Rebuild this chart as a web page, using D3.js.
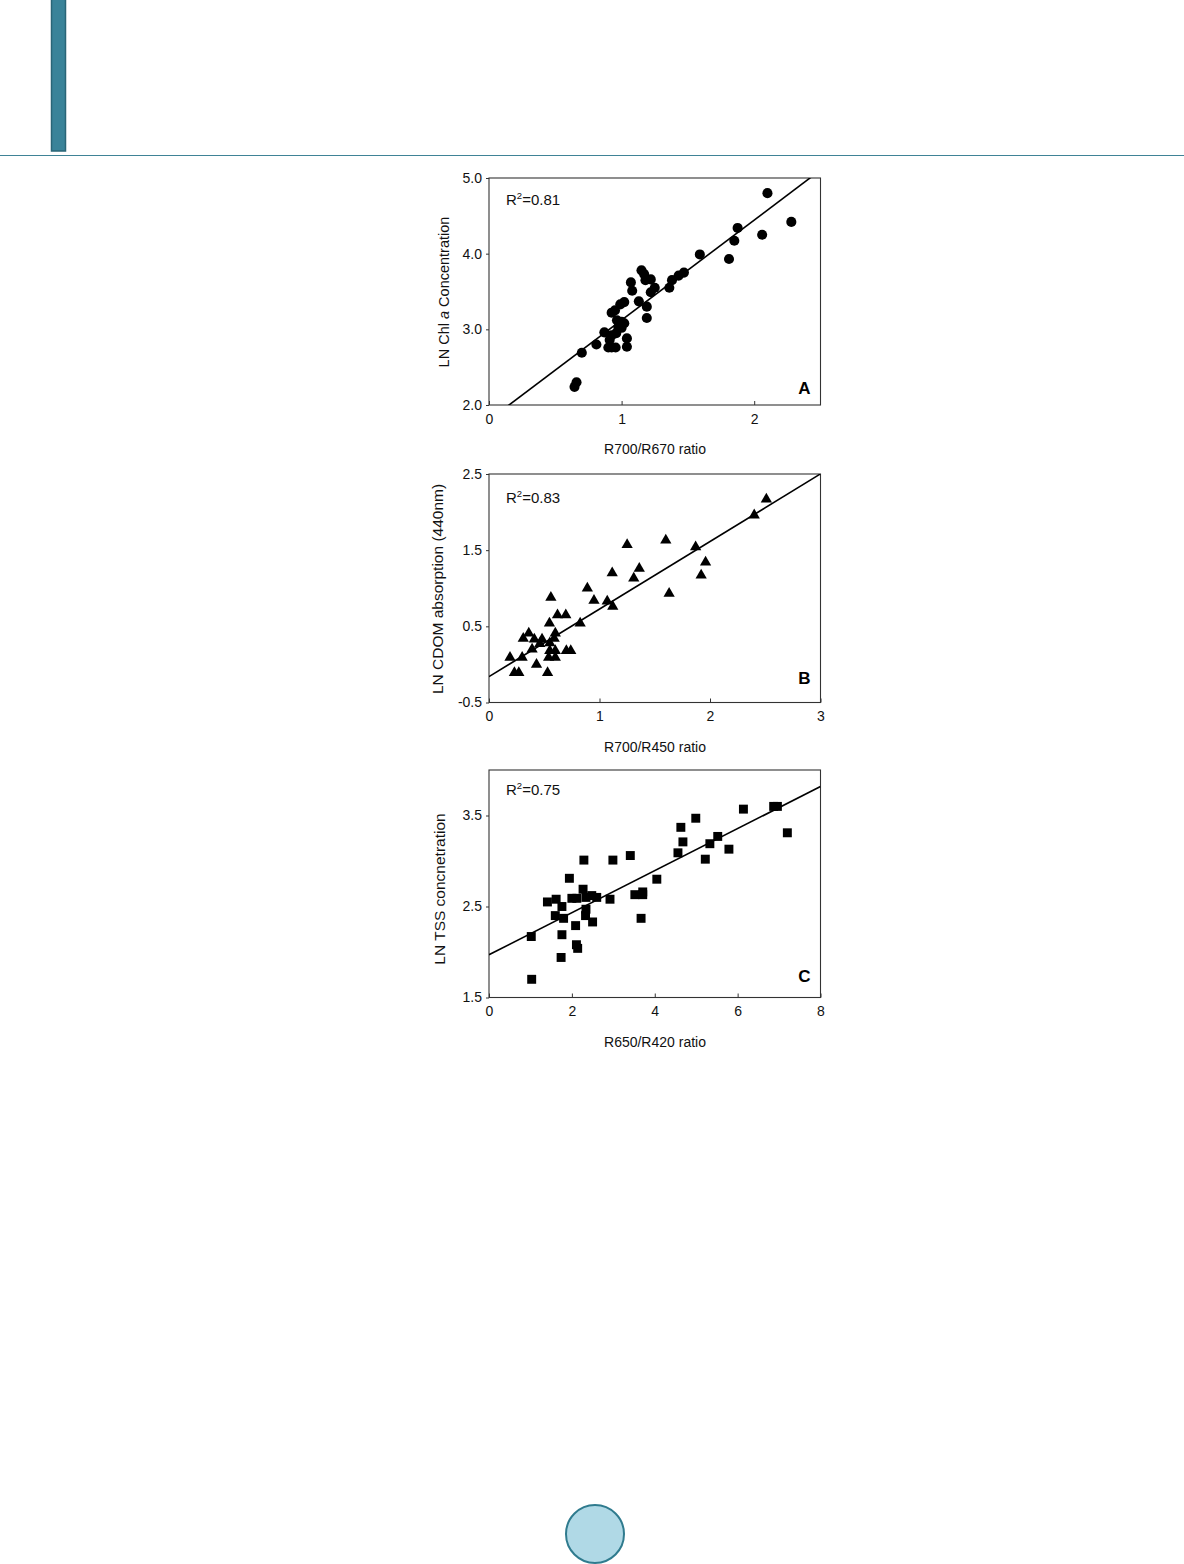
<!DOCTYPE html>
<html><head><meta charset="utf-8">
<script src="https://cdn.jsdelivr.net/npm/d3@7"></script>
<style>body{margin:0;background:#fff}svg{display:block}</style>
</head><body>
<svg id="page" width="1184" height="1564"></svg>
<script>
// ---------- Data ----------
// Panel A: LN Chl a vs R700/R670
const chlX = [2.10,2.28,2.06,1.875,1.85,1.81,1.59,1.47,1.43,1.38,1.36,1.15,1.17,1.18,1.22,1.25,1.22,1.07,1.08,1.13,1.19,1.19,1.02,0.99,0.925,0.95,0.965,1.00,1.02,1.00,0.975,0.96,0.925,0.87,0.91,1.04,1.04,0.90,0.925,0.955,0.81,0.70,0.66,0.645];
const chlY = [4.80,4.42,4.25,4.34,4.17,3.93,3.99,3.75,3.71,3.65,3.55,3.78,3.73,3.65,3.66,3.55,3.49,3.62,3.51,3.37,3.30,3.15,3.36,3.33,3.22,3.25,3.12,3.10,3.08,3.02,3.03,2.95,2.92,2.96,2.86,2.88,2.77,2.76,2.76,2.76,2.80,2.69,2.30,2.24];
// Panel B: LN CDOM absorption (440nm) vs R700/R450
const cdomX = [2.51,2.40,1.87,1.60,1.25,1.96,1.92,1.63,1.36,1.31,1.115,0.89,0.95,1.07,1.12,0.56,0.62,0.695,0.825,0.547,0.60,0.59,0.55,0.36,0.31,0.41,0.48,0.46,0.39,0.55,0.60,0.70,0.74,0.19,0.30,0.54,0.60,0.43,0.23,0.27,0.53];
const cdomY = [2.17,1.96,1.54,1.63,1.57,1.34,1.17,0.93,1.26,1.13,1.20,1.00,0.84,0.83,0.76,0.88,0.65,0.65,0.54,0.54,0.41,0.34,0.28,0.41,0.34,0.33,0.33,0.27,0.20,0.18,0.18,0.18,0.18,0.09,0.09,0.09,0.09,0.00,-0.11,-0.11,-0.11];
// Panel C: LN TSS concentration vs R650/R420
const tssX = [6.96,6.87,6.14,7.20,4.99,4.63,4.68,4.56,5.52,5.33,5.79,5.22,3.41,2.99,2.29,1.94,4.05,3.52,3.71,3.71,2.92,2.27,2.00,2.12,2.34,2.48,2.60,1.41,1.62,1.76,1.60,1.80,2.34,2.33,2.50,2.09,3.67,1.02,1.76,2.11,2.14,1.74,1.03];
const tssY = [3.60,3.60,3.57,3.31,3.47,3.37,3.21,3.09,3.27,3.19,3.13,3.02,3.06,3.01,3.01,2.81,2.80,2.63,2.66,2.63,2.58,2.69,2.59,2.59,2.60,2.62,2.60,2.55,2.58,2.50,2.40,2.37,2.47,2.40,2.33,2.29,2.37,2.17,2.19,2.08,2.04,1.94,1.70];
// Regression lines [intercept, slope]
const fitA = [1.80, 1.322];
const fitB = [-0.16, 0.887];
const fitC = [1.97, 0.231];
// Ticks
const xTicksA = [0,1,2], yTicksA = [2,3,4,5];
const xTicksB = [0,1,2,3], yTicksB = [-0.5,0.5,1.5,2.5];
const xTicksC = [0,2,4,6,8], yTicksC = [1.5,2.5,3.5];
// Labels
const r2Labels = ["0.81","0.83","0.75"];
const panelLetters = ["A","B","C"];
const xTitles = ["R700/R670 ratio","R700/R450 ratio","R650/R420 ratio"];

// ---------- Page decoration ----------
const svg = d3.select("#page");
const FONT = "Arial, 'Liberation Sans', sans-serif";
svg.append("rect").attr("x",51.5).attr("y",-2).attr("width",14).attr("height",153)
  .attr("fill","#3a8399").attr("stroke","#2a6577").attr("stroke-width",1.5);
svg.append("line").attr("x1",0).attr("x2",1184).attr("y1",155.5).attr("y2",155.5)
  .attr("stroke","#3f8396").attr("stroke-width",1.2);
svg.append("circle").attr("cx",595).attr("cy",1534).attr("r",29)
  .attr("fill","#b0d9e6").attr("stroke","#2f7b8e").attr("stroke-width",2);

// ---------- Panels ----------
const L = 489, R = 820.5;
const fmtY = v => d3.format(".1f")(v).replace("\u2212","-");
const panels = [
  {top:178, bottom:405, xd:[0,2.5], yd:[2,5], xs:chlX, ys:chlY, fit:fitA, xt:xTicksA, yt:yTicksA,
   sym:d3.symbolCircle, size:80, ytx:444, ytc:292, ytfs:14.5, r2y:205, letY:394,
   ytitle:[["LN Chl ",false],["a",true],[" Concentration",false]]},
  {top:474, bottom:702.5, xd:[0,3], yd:[-0.5,2.5], xs:cdomX, ys:cdomY, fit:fitB, xt:xTicksB, yt:yTicksB,
   sym:d3.symbolTriangle, size:55, ytx:438, ytc:589, ytfs:15.5, r2y:503, letY:684,
   ytitle:[["LN CDOM absorption (440nm)",false]]},
  {top:770, bottom:997.5, xd:[0,8], yd:[1.5,4], xs:tssX, ys:tssY, fit:fitC, xt:xTicksC, yt:yTicksC,
   sym:d3.symbolSquare, size:80, ytx:440, ytc:889, ytfs:15.5, r2y:795, letY:982,
   ytitle:[["LN TSS concnetration",false]]}
];

panels.forEach((p,i)=>{
  const x = d3.scaleLinear().domain(p.xd).range([L,R]);
  const y = d3.scaleLinear().domain(p.yd).range([p.bottom,p.top]);
  const g = svg.append("g");
  const clipId = "clip"+i;
  svg.append("clipPath").attr("id",clipId).append("rect")
    .attr("x",L).attr("y",p.top).attr("width",R-L).attr("height",p.bottom-p.top);

  // x axis (ticks inward)
  const xa = g.append("g").attr("transform",`translate(0,${p.bottom})`)
    .call(d3.axisBottom(x).tickValues(p.xt).tickSizeInner(-4).tickSizeOuter(0).tickPadding(9).tickFormat(d3.format("d")));
  xa.select(".domain").remove();
  xa.selectAll("line").attr("stroke","#333");
  xa.selectAll("text").attr("font-family",FONT).attr("font-size",14).attr("fill","#111");

  // y axis (ticks outward)
  const ya = g.append("g").attr("transform",`translate(${L},0)`)
    .call(d3.axisLeft(y).tickValues(p.yt).tickSizeInner(3).tickSizeOuter(0).tickPadding(4).tickFormat(fmtY));
  ya.select(".domain").remove();
  ya.selectAll("line").attr("stroke","#333");
  ya.selectAll("text").attr("font-family",FONT).attr("font-size",14).attr("fill","#111");

  // frame
  g.append("rect").attr("x",L).attr("y",p.top).attr("width",R-L).attr("height",p.bottom-p.top)
    .attr("fill","none").attr("stroke","#333").attr("stroke-width",1.1);

  // regression line
  const [b0,b1] = p.fit;
  g.append("line").attr("clip-path",`url(#${clipId})`)
    .attr("x1",x(p.xd[0])).attr("y1",y(b0+b1*p.xd[0]))
    .attr("x2",x(p.xd[1])).attr("y2",y(b0+b1*p.xd[1]))
    .attr("stroke","#000").attr("stroke-width",1.6);

  // points
  const sym = d3.symbol().type(p.sym).size(p.size);
  g.append("g").selectAll("path").data(p.xs.map((v,k)=>[v,p.ys[k]])).join("path")
    .attr("d",sym).attr("transform",d=>`translate(${x(d[0])},${y(d[1])})`).attr("fill","#000");

  // R^2 label
  const t = g.append("text").attr("x",L+17).attr("y",p.r2y).attr("font-family",FONT).attr("font-size",15).attr("fill","#111");
  t.append("tspan").text("R");
  t.append("tspan").attr("font-size",9.5).attr("dy",-6).text("2");
  t.append("tspan").attr("dy",6).text("="+r2Labels[i]);

  // panel letter
  g.append("text").attr("x",R-10).attr("y",p.letY).attr("text-anchor","end")
    .attr("font-family",FONT).attr("font-weight","bold").attr("font-size",17).attr("fill","#000").text(panelLetters[i]);

  // x title
  g.append("text").attr("x",655).attr("y",p.bottom+49).attr("text-anchor","middle")
    .attr("font-family",FONT).attr("font-size",14).attr("fill","#111").text(xTitles[i]);

  // y title
  const yt = g.append("text").attr("transform",`translate(${p.ytx},${p.ytc}) rotate(-90)`)
    .attr("text-anchor","middle").attr("dy","0.35em")
    .attr("font-family",FONT).attr("font-size",p.ytfs).attr("fill","#111");
  p.ytitle.forEach(([s,it])=>{ const ts = yt.append("tspan").text(s); if(it) ts.attr("font-style","italic"); });
});
</script></body></html>
